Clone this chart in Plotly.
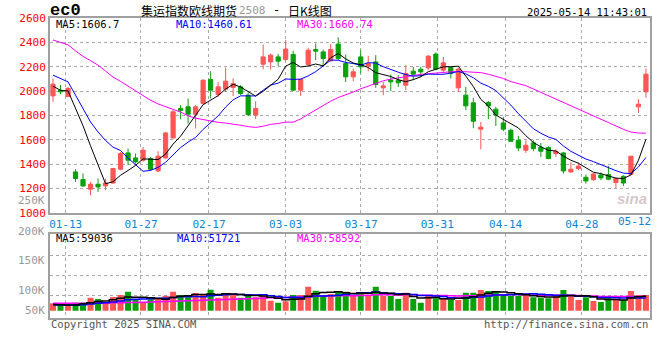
import plotly.graph_objects as go

# ---------------- data ----------------
opens = [1961, 2008, 1956, 1337, 1274, 1195, 1236, 1222, 1246, 1359,
         1493, 1452, 1433, 1447, 1345, 1452, 1616, 1858, 1871, 1811,
         1899, 2096, 1973, 2016, 2030, 2035, 1967, 1803, 2221, 2240,
         2281, 2260, 2301, 2008, 2219, 2342, 2322, 2249, 2386, 2227,
         2117, 2281, 2207, 2240, 2027, 2090, 2090, 2049, 2164, 2180,
         2191, 2304, 2172, 2194, 2027, 1967, 1904, 1688, 1907, 1852,
         1739, 1679, 1597, 1515, 1575, 1540, 1537, 1488, 1493, 1337,
         1365, 1293, 1274, 1312, 1315, 1250, 1301, 1318, 1871, 1994]
highs = [2104, 2049, 2035, 1359, 1324, 1255, 1283, 1283, 1370, 1501,
         1529, 1488, 1542, 1460, 1507, 1665, 1844, 1885, 1940, 1885,
         2096, 2164, 2076, 2194, 2104, 2049, 1989, 1918, 2383, 2309,
         2306, 2419, 2331, 2104, 2355, 2391, 2342, 2386, 2441, 2301,
         2186, 2336, 2290, 2295, 2076, 2137, 2131, 2213, 2199, 2199,
         2295, 2317, 2281, 2199, 2191, 2035, 1945, 1747, 1918, 1871,
         1789, 1693, 1632, 1597, 1597, 1575, 1548, 1523, 1501, 1419,
         1414, 1315, 1329, 1332, 1386, 1291, 1310, 1466, 1934, 2186]
lows = [1912, 1975, 1953, 1255, 1214, 1145, 1173, 1186, 1241, 1351,
        1392, 1406, 1419, 1351, 1337, 1447, 1611, 1770, 1734, 1693,
        1890, 1940, 1953, 1994, 1959, 1967, 1794, 1770, 2180, 2177,
        2207, 2249, 2000, 1961, 2207, 2254, 2199, 2240, 2254, 2076,
        2082, 2145, 2164, 2027, 1967, 2000, 2035, 2008, 2090, 2117,
        2172, 2172, 2145, 2104, 1994, 1844, 1698, 1523, 1770, 1714,
        1671, 1583, 1507, 1493, 1507, 1460, 1441, 1460, 1324, 1329,
        1351, 1241, 1263, 1269, 1269, 1205, 1222, 1310, 1821, 1945]
closes = [2057, 1994, 2022, 1283, 1222, 1236, 1214, 1246, 1365, 1488,
          1433, 1419, 1515, 1359, 1466, 1657, 1830, 1841, 1811, 1871,
          2090, 2008, 2035, 2082, 2063, 1981, 1808, 1858, 2281, 2295,
          2246, 2345, 2008, 2096, 2336, 2328, 2268, 2342, 2268, 2117,
          2158, 2199, 2227, 2055, 2043, 2076, 2068, 2145, 2139, 2158,
          2287, 2180, 2232, 2145, 2180, 1879, 1753, 1704, 1879, 1803,
          1688, 1589, 1534, 1556, 1528, 1507, 1447, 1507, 1345, 1359,
          1384, 1263, 1320, 1288, 1277, 1283, 1246, 1466, 1893, 2139]
volumes = [29700, 22950, 22950, 32400, 32400, 52650, 47250, 32400, 55350, 63450,
           76950, 43200, 35100, 45900, 47250, 60750, 76950, 63450, 54000, 71550,
           63450, 85050, 52650, 71550, 67500, 52650, 63450, 54000, 59400, 40500,
           32400, 37800, 63450, 63450, 97200, 81000, 62100, 67500, 76950, 76950,
           63450, 72900, 63450, 97200, 59400, 59400, 47250, 72900, 47250, 32400,
           63450, 49950, 49950, 43200, 43200, 72900, 72900, 83700, 79650, 76950,
           66150, 59400, 59400, 63450, 54000, 52650, 49950, 59400, 83700, 63450,
           43200, 54000, 39150, 35100, 54000, 43200, 43200, 79650, 63450, 63450]

# moving-average values before enough history is on screen
ma5_head = [2041, 2006, 2002, 1860]
ma10_head = [2131, 2104, 2076, 1967, 1858, 1747, 1665, 1595, 1540]
ma30_head = [2420, 2402, 2380, 2330, 2285, 2250, 2213, 2165, 2115, 2080,
             2040, 2000, 1965, 1925, 1895, 1870, 1850, 1828, 1797, 1778,
             1765, 1753, 1744, 1738, 1732, 1720, 1709, 1702, 1712]
vma5_head = [25000, 24000, 23000, 23000]
vma10_head = [23000, 23000, 23000, 23000, 24000, 27000, 30000, 32000, 35000]
vma30_head = [30000, 30000, 30000, 30000, 30000, 30500, 31000, 31500, 32000, 32500,
              33000, 33500, 34000, 35000, 36000, 37000, 38000, 39000, 40000, 41000,
              42000, 43000, 44000, 45000, 46000, 47000, 48000, 49000, 50000]

date_labels = ["01-13", "01-27", "02-17", "03-03", "03-17", "03-31", "04-14", "04-28"]
date_pos = [1.69, 11.72, 20.78, 31.0, 41.03, 51.2, 60.3, 70.44]
last_label = "05-12"
last_label_pos = 77.4

price_ticks = [1000, 1200, 1400, 1600, 1800, 2000, 2200, 2400, 2600]

ma_main_text = ["MA5:1606.7", "MA10:1460.61", "MA30:1660.74"]
ma_vol_text = ["MA5:59036", "MA10:51721", "MA30:58592"]
vol_axis_labels = ["250K", "200K", "150K", "100K", "50K"]

title_code = "ec0"
title_main = "集运指数欧线期货"
title_num = "2508"
title_tail = "日K线图"
stamp = "2025-05-14 11:43:01"


def moving_avg(vals, n, head):
    out = []
    for i in range(len(vals)):
        if i < n - 1:
            out.append(head[i])
        else:
            out.append(sum(vals[i - n + 1:i + 1]) / n)
    return out


x = list(range(len(closes)))
ma5 = moving_avg(closes, 5, ma5_head)
ma10 = moving_avg(closes, 10, ma10_head)
ma30 = moving_avg(closes, 30, ma30_head)
vma5 = moving_avg(volumes, 5, vma5_head)
vma10 = moving_avg(volumes, 10, vma10_head)
vma30 = moving_avg(volumes, 30, vma30_head)

RED = "#ff5555"
GREEN = "#0aa00a"
FRAME = "#a0a0a0"
GRID = "#a8a8a8"
MONO = "DejaVu Sans Mono"
W, H = 660, 360


def px(v):
    return v / W


def py(v):
    return 1 - v / H


fig = go.Figure()

fig.add_trace(go.Candlestick(
    x=x, open=opens, high=highs, low=lows, close=closes,
    increasing=dict(line=dict(color=RED, width=1), fillcolor=RED),
    decreasing=dict(line=dict(color=GREEN, width=1), fillcolor=GREEN),
    whiskerwidth=0, hoverinfo="skip", showlegend=False,
    xaxis="x", yaxis="y"))

for vals, col in [(ma30, "#ff00ff"), (ma10, "#0000ff"), (ma5, "#000000")]:
    fig.add_trace(go.Scatter(x=x, y=vals, mode="lines", line=dict(color=col, width=1),
                             hoverinfo="skip", showlegend=False, xaxis="x", yaxis="y"))

vcolors = [RED if c >= o else GREEN for o, c in zip(opens, closes)]
fig.add_trace(go.Bar(x=x, y=volumes, marker=dict(color=vcolors, line=dict(width=0)),
                     width=0.8, hoverinfo="skip", showlegend=False, xaxis="x2", yaxis="y2"))
for vals, col in [(vma30, "#ff00ff"), (vma10, "#0000ff"), (vma5, "#000000")]:
    fig.add_trace(go.Scatter(x=x, y=vals, mode="lines", line=dict(color=col, width=1.5, shape="hvh"),
                             hoverinfo="skip", showlegend=False, xaxis="x2", yaxis="y2"))

# axis geometry
xdom = [px(50), px(650)]
xrange_ = [-0.4, 79.54]
vol_per_px = 4050.0
vbase = 310.7
vtop, vbot = 234.3, 318.3
vrange = [-(vbot - vbase) * vol_per_px, (vbase - vtop) * vol_per_px]
vgrid = [(vbase - g) * vol_per_px for g in (255, 275, 295)]

common = dict(showgrid=True, gridcolor=GRID, griddash="dot", gridwidth=1,
              showline=True, mirror=True, linecolor=FRAME, linewidth=2,
              zeroline=False, automargin=False, ticks="", tickmode="array", fixedrange=True)

fig.update_layout(
    width=W, height=H, autosize=False,
    margin=dict(l=0, r=0, t=0, b=0, pad=0, autoexpand=False),
    paper_bgcolor="white", plot_bgcolor="white", showlegend=False,
    boxgap=0.2,
    xaxis=dict(domain=xdom, range=xrange_, anchor="y",
               tickvals=date_pos, ticktext=date_labels,
               tickfont=dict(family=MONO, size=11, color="#0a84d8"),
               rangeslider=dict(visible=False), **common),
    yaxis=dict(domain=[py(213), py(18)], range=[1000, 2600], anchor="x",
               tickvals=price_ticks, ticktext=[str(t) for t in price_ticks],
               tickfont=dict(family=MONO, size=11, color="#ff0000"), **common),
    xaxis2=dict(domain=xdom, range=xrange_, anchor="y2",
                tickvals=date_pos, showticklabels=False, **common),
    yaxis2=dict(domain=[py(vbot), py(vtop)], range=vrange, anchor="x2",
                tickvals=vgrid, showticklabels=False, **common),
)

ann = []


def text(t, x_px, y_px, color="#000", size=11, family=MONO, xanchor="left", **kw):
    ann.append(dict(text=t, x=px(x_px), y=py(y_px), xref="paper", yref="paper",
                    xanchor=xanchor, yanchor="middle", showarrow=False,
                    font=dict(color=color, size=size, family=family), **kw))


text("<b>" + title_code + "</b>", 48, 10, size=17, family="Liberation Mono")
text(title_main, 139, 10, size=12, family="Noto Sans CJK SC")
text(title_num, 237, 10, size=11, family=MONO, color="#999999")
text("-", 271, 10, size=12, family=MONO)
text(title_tail, 286, 10, size=12, family="Noto Sans CJK SC")
text(stamp, 649, 12, size=10.5, xanchor="right")

text(ma_main_text[0], 54, 24, color="#000000", size=10.5)
text(ma_main_text[1], 174, 24, color="#0000ff", size=10.5)
text(ma_main_text[2], 295, 24, color="#ff00ff", size=10.5)

text(ma_vol_text[0], 54, 238, color="#000000", size=10.5)
text(ma_vol_text[1], 175, 238, color="#0000ff", size=10.5)
text(ma_vol_text[2], 295, 238, color="#ff00ff", size=10.5)

for lab, yy in zip(vol_axis_labels, [200, 231, 260, 290, 310]):
    text(lab, 47, yy, color="#999999", size=11, xanchor="right")

text(last_label, 634, 221.5, color="#0a84d8", size=11, xanchor="center")

text("Copyright 2025 SINA.COM", 49, 323.5, color="#555555", size=10.5)
text("http://finance.sina.com.cn", 650, 323.5, color="#555555", size=10.5, xanchor="right")

text("<b><i>sina</i></b>", 632, 198, color="rgba(200,180,180,0.75)", size=15,
     family="Liberation Sans", xanchor="center")

fig.update_layout(annotations=ann)
fig.write_html("out.html", config=dict(responsive=False, displayModeBar=False),
               post_script="document.body.style.margin='0';document.body.style.overflow='hidden';")
